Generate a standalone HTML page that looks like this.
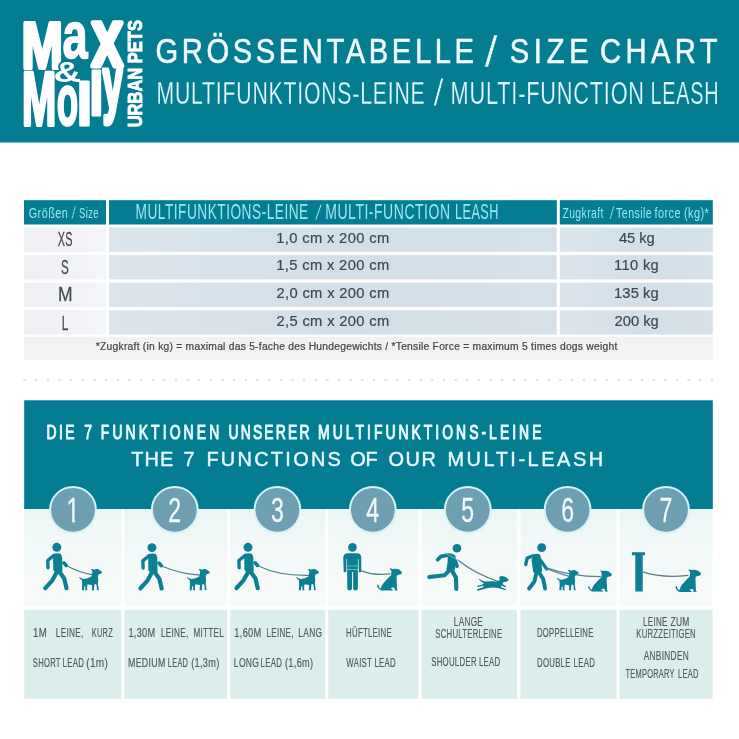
<!DOCTYPE html>
<html lang="de">
<head>
<meta charset="utf-8">
<title>Max &amp; Molly Urban Pets – Grössentabelle / Size Chart – Multifunktions-Leine / Multi-Function Leash</title>
<style>
html,body{margin:0;padding:0;background:#fff;}
body{width:739px;height:739px;overflow:hidden;}
svg{display:block;}
.ls{font-family:"Liberation Sans",sans-serif;}
text{white-space:pre;}
</style>
</head>
<body>
<svg width="739" height="739" viewBox="0 0 739 739">
<defs>
<linearGradient id="gc" x1="0" y1="0" x2="1" y2="0">
<stop offset="0" stop-color="#dde5ec"/><stop offset="0.5" stop-color="#d3dfe8"/><stop offset="1" stop-color="#d6e1e9"/>
</linearGradient>
<linearGradient id="gi" x1="0" y1="0" x2="0" y2="1">
<stop offset="0" stop-color="#ebf6f4"/><stop offset="0.45" stop-color="#f3f9f8"/><stop offset="1" stop-color="#f7fbfa"/>
</linearGradient>
<linearGradient id="g1" x1="0" y1="0" x2="1" y2="0">
<stop offset="0" stop-color="#eef0f4"/><stop offset="0.6" stop-color="#f0f2f5"/><stop offset="1" stop-color="#f5f6f8"/>
</linearGradient>
</defs>
<rect x="0" y="0" width="739" height="142.5" fill="#047c92"/>
<g class="ls" font-weight="700" fill="#fff" stroke="#fff" stroke-linejoin="round" stroke-linecap="round">
<text aria-label="Max"><tspan x="21.47" y="67.50" font-size="65.1" stroke-width="3.8" textLength="41.41" lengthAdjust="spacingAndGlyphs">M</tspan><tspan x="62.44" y="57.93" font-size="66.8" stroke-width="1.6" textLength="25.16" lengthAdjust="spacingAndGlyphs">a</tspan><tspan x="91.53" y="66.30" font-size="81.8" stroke-width="5.0" textLength="31.52" lengthAdjust="spacingAndGlyphs">x</tspan></text>
</g>
<text class="ls" font-weight="700" font-size="30" transform="translate(53.6 82) scale(1.28 1)" fill="#fff" stroke="#047c92" stroke-width="3.2" paint-order="stroke" stroke-linejoin="round">&amp;</text>
<g class="ls" font-weight="700" fill="#fff" stroke="#fff" stroke-linejoin="round" stroke-linecap="round">
<text aria-label="Molly"><tspan x="22.03" y="125.10" font-size="76.5" stroke-width="3.8" textLength="34.27" lengthAdjust="spacingAndGlyphs">M</tspan><tspan x="56.80" y="124.88" font-size="71.9" stroke-width="2.4" textLength="21.44" lengthAdjust="spacingAndGlyphs">o</tspan><tspan x="76.80" y="125.10" font-size="58.8" stroke-width="3.0" textLength="15.48" lengthAdjust="spacingAndGlyphs">l</tspan><tspan x="89.30" y="115.00" font-size="61.7" stroke-width="3.0" textLength="14.29" lengthAdjust="spacingAndGlyphs">l</tspan><tspan x="102.65" y="108.81" font-size="74.5" stroke-width="5.0" textLength="19.67" lengthAdjust="spacingAndGlyphs">y</tspan></text>
</g>
<text class="ls" font-weight="700" font-size="21" fill="#fff" stroke="#fff" stroke-width="0.9" transform="translate(142.4 127.3) rotate(-90) scale(0.786 1)">URBAN PETS</text>
<text class="ls" font-size="35.6" fill="#f2fcff" stroke="#f2fcff" stroke-width="0.6" stroke-linejoin="round" transform="translate(0 62.8) scale(0.8200 1)"><tspan x="189.68" letter-spacing="4.362">GRÖSSENTABELLE</tspan></text>
<text class="ls" font-size="44" fill="#f2fcff" stroke="#047c92" stroke-width="0.5" transform="translate(484.40 66.50) scale(1.0714 1)" x="-0.00">/</text>
<text class="ls" font-size="35.6" fill="#f2fcff" stroke="#f2fcff" stroke-width="0.6" stroke-linejoin="round" transform="translate(0 62.8) scale(0.8200 1)"><tspan x="621.57" letter-spacing="5.722">SIZE</tspan> <tspan x="731.76" letter-spacing="5.354">CHART</tspan></text>
<text class="ls" font-size="32.2" fill="#e4fafe" stroke="#047c92" stroke-width="0.25" letter-spacing="1.2" transform="translate(158.10 103.50) scale(0.6597 1)" x="-2.58">MULTIFUNKTIONS-LEINE</text>
<text class="ls" font-size="38" fill="#e4fafe" stroke="#047c92" stroke-width="0.9" transform="translate(433.20 106.00) scale(0.9962 1)" x="-0.00">/</text>
<text class="ls" font-size="32.2" fill="#e4fafe" stroke="#047c92" stroke-width="0.25" letter-spacing="1.2" transform="translate(452.30 103.50) scale(0.6748 1)" x="-2.58">MULTI-FUNCTION</text>
<text class="ls" font-size="32.2" fill="#e4fafe" stroke="#047c92" stroke-width="0.25" letter-spacing="1.2" transform="translate(652.10 103.50) scale(0.6175 1)" x="-2.58">LEASH</text>
<rect x="24" y="200.2" width="82.0" height="24.3" fill="#047c92"/>
<rect x="109" y="200.2" width="447.8" height="24.3" fill="#047c92"/>
<rect x="559.8" y="200.2" width="153.0" height="24.3" fill="#047c92"/>
<rect x="24" y="227.5" width="82" height="24.4" fill="url(#g1)"/>
<rect x="109" y="227.5" width="447.8" height="24.4" fill="url(#gc)"/>
<rect x="559.8" y="227.5" width="153.0" height="24.4" fill="url(#gc)"/>
<rect x="24" y="255.1" width="82" height="24.3" fill="url(#g1)"/>
<rect x="109" y="255.1" width="447.8" height="24.3" fill="url(#gc)"/>
<rect x="559.8" y="255.1" width="153.0" height="24.3" fill="url(#gc)"/>
<rect x="24" y="282.7" width="82" height="24.3" fill="url(#g1)"/>
<rect x="109" y="282.7" width="447.8" height="24.3" fill="url(#gc)"/>
<rect x="559.8" y="282.7" width="153.0" height="24.3" fill="url(#gc)"/>
<rect x="24" y="310.3" width="82" height="24.3" fill="url(#g1)"/>
<rect x="109" y="310.3" width="447.8" height="24.3" fill="url(#gc)"/>
<rect x="559.8" y="310.3" width="153.0" height="24.3" fill="url(#gc)"/>
<rect x="24" y="336.8" width="688.8" height="23.4" fill="#f2f2f3"/>
<text class="ls" font-size="15" fill="#9be6f3" letter-spacing="0.6" transform="translate(29.20 217.80) scale(0.7271 1)" x="-0.75">Größen</text>
<text class="ls" font-size="17.5" fill="#9be6f3" stroke="#047c92" stroke-width="0.5" transform="translate(71.20 218.70) scale(1.0000 1)" x="-0.00">/</text>
<text class="ls" font-size="15" fill="#9be6f3" letter-spacing="0.6" transform="translate(79.30 217.80) scale(0.6380 1)" x="-0.67">Size</text>
<text class="ls" font-size="22" fill="#9be6f3" letter-spacing="0.8" transform="translate(136.60 219.00) scale(0.6227 1)" x="-1.76">MULTIFUNKTIONS-LEINE</text>
<text class="ls" font-size="22.5" fill="#9be6f3" stroke="#047c92" stroke-width="0.9" transform="translate(314.40 219.80) scale(1.2698 1)" x="-0.00">/</text>
<text class="ls" font-size="22" fill="#9be6f3" letter-spacing="0.8" transform="translate(326.40 219.00) scale(0.6378 1)" x="-1.76">MULTI-FUNCTION</text>
<text class="ls" font-size="22" fill="#9be6f3" letter-spacing="0.8" transform="translate(456.00 219.00) scale(0.5758 1)" x="-1.76">LEASH</text>
<text class="ls" font-size="15" fill="#9be6f3" letter-spacing="0.6" transform="translate(562.70 217.80) scale(0.6939 1)" x="-0.45">Zugkraft</text>
<text class="ls" font-size="17.5" fill="#9be6f3" stroke="#047c92" stroke-width="0.5" transform="translate(609.40 218.70) scale(1.0204 1)" x="-0.00">/</text>
<text class="ls" font-size="15" fill="#9be6f3" letter-spacing="0.6" transform="translate(616.30 217.80) scale(0.7083 1)" x="-0.30">Tensile</text>
<text class="ls" font-size="15" fill="#9be6f3" letter-spacing="0.6" transform="translate(654.70 217.80) scale(0.7270 1)" x="-0.22">force</text>
<text class="ls" font-size="15" fill="#9be6f3" letter-spacing="0.6" transform="translate(684.60 217.80) scale(0.7320 1)" x="-0.90">(kg)*</text>
<text class="ls" font-size="19.3" fill="#454a52" stroke="#454a52" stroke-width="0.25" stroke-linejoin="round" letter-spacing="0.8" transform="translate(57.90 245.50) scale(0.5614 1)" x="-0.48">XS</text>
<text class="ls" font-size="15.2" fill="#3d4a55" stroke="#3d4a55" stroke-width="0.22" stroke-linejoin="round" transform="translate(0 242.79999999999998) scale(0.9700 1)"><tspan x="284.74" letter-spacing="0.357">1,0 cm x 200 cm</tspan></text>
<text class="ls" font-size="15.2" fill="#3d4a55" stroke="#3d4a55" stroke-width="0.22" stroke-linejoin="round" transform="translate(0 242.79999999999998) scale(0.9700 1)"><tspan x="638.15" letter-spacing="-0.102">45 kg</tspan></text>
<text class="ls" font-size="19.3" fill="#454a52" stroke="#454a52" stroke-width="0.25" stroke-linejoin="round" transform="translate(61.60 273.80) scale(0.6037 1)" x="-0.87">S</text>
<text class="ls" font-size="15.2" fill="#3d4a55" stroke="#3d4a55" stroke-width="0.22" stroke-linejoin="round" transform="translate(0 270.35) scale(0.9700 1)"><tspan x="284.74" letter-spacing="0.357">1,5 cm x 200 cm</tspan></text>
<text class="ls" font-size="15.2" fill="#3d4a55" stroke="#3d4a55" stroke-width="0.22" stroke-linejoin="round" transform="translate(0 270.35) scale(0.9700 1)"><tspan x="633.09" letter-spacing="0.317">110 kg</tspan></text>
<text class="ls" font-size="19.3" fill="#454a52" stroke="#454a52" stroke-width="0.25" stroke-linejoin="round" transform="translate(59.30 301.30) scale(0.9048 1)" x="-1.54">M</text>
<text class="ls" font-size="15.2" fill="#3d4a55" stroke="#3d4a55" stroke-width="0.22" stroke-linejoin="round" transform="translate(0 297.95000000000005) scale(0.9700 1)"><tspan x="285.12" letter-spacing="0.329">2,0 cm x 200 cm</tspan></text>
<text class="ls" font-size="15.2" fill="#3d4a55" stroke="#3d4a55" stroke-width="0.22" stroke-linejoin="round" transform="translate(0 297.95000000000005) scale(0.9700 1)"><tspan x="633.09" letter-spacing="0.089">135 kg</tspan></text>
<text class="ls" font-size="19.3" fill="#454a52" stroke="#454a52" stroke-width="0.25" stroke-linejoin="round" transform="translate(62.80 330.20) scale(0.6055 1)" x="-1.54">L</text>
<text class="ls" font-size="15.2" fill="#3d4a55" stroke="#3d4a55" stroke-width="0.22" stroke-linejoin="round" transform="translate(0 325.55000000000007) scale(0.9700 1)"><tspan x="285.12" letter-spacing="0.329">2,5 cm x 200 cm</tspan></text>
<text class="ls" font-size="15.2" fill="#3d4a55" stroke="#3d4a55" stroke-width="0.22" stroke-linejoin="round" transform="translate(0 325.55000000000007) scale(0.9700 1)"><tspan x="633.47" letter-spacing="0.013">200 kg</tspan></text>
<text class="ls" font-size="10.4" fill="#45494f" stroke="#45494f" stroke-width="0.25" stroke-linejoin="round" transform="translate(0 350.3) scale(0.9900 1)"><tspan x="96.81" letter-spacing="0.252">*Zugkraft (in kg) = maximal das 5-fache des Hundegewichts / *Tensile Force = maximum 5 times dogs weight</tspan></text>
<line x1="24.5" y1="380" x2="714" y2="380" stroke="#e0e4e7" stroke-width="2.6" stroke-linecap="round" stroke-dasharray="0.1 11.55"/>
<rect x="24.2" y="400.3" width="688.6" height="108.7" fill="#047c92"/>
<rect x="24.2" y="509" width="97.1" height="96.6" fill="url(#gi)"/>
<rect x="24.2" y="609.8" width="97.1" height="89" fill="#dceeec"/>
<rect x="124.4" y="509" width="102.6" height="96.6" fill="url(#gi)"/>
<rect x="124.4" y="609.8" width="102.6" height="89" fill="#dceeec"/>
<rect x="230.2" y="509" width="95.1" height="96.6" fill="url(#gi)"/>
<rect x="230.2" y="609.8" width="95.1" height="89" fill="#dceeec"/>
<rect x="328.2" y="509" width="90.3" height="96.6" fill="url(#gi)"/>
<rect x="328.2" y="609.8" width="90.3" height="89" fill="#dceeec"/>
<rect x="421.7" y="509" width="95.3" height="96.6" fill="url(#gi)"/>
<rect x="421.7" y="609.8" width="95.3" height="89" fill="#dceeec"/>
<rect x="520.5" y="509" width="96.0" height="96.6" fill="url(#gi)"/>
<rect x="520.5" y="609.8" width="96.0" height="89" fill="#dceeec"/>
<rect x="619.5" y="509" width="93.1" height="96.6" fill="url(#gi)"/>
<rect x="619.5" y="609.8" width="93.1" height="89" fill="#dceeec"/>
<text class="ls" font-size="20.8" fill="#e8fbff" stroke="#e8fbff" stroke-width="1.1" stroke-linejoin="round" transform="translate(0 439.1) scale(0.6700 1)"><tspan x="69.53" letter-spacing="3.633">DIE</tspan> <tspan x="125.83">7</tspan> <tspan x="150.43" letter-spacing="4.634">FUNKTIONEN</tspan> <tspan x="340.98" letter-spacing="3.240">UNSERER</tspan> <tspan x="474.75" letter-spacing="4.500">MULTIFUNKTIONS-LEINE</tspan></text>
<text class="ls" font-size="21" fill="#e8fbff" stroke="#e8fbff" stroke-width="0.45" stroke-linejoin="round" transform="translate(0 465.7) scale(0.9500 1)"><tspan x="138.11" letter-spacing="1.209">THE</tspan> <tspan x="193.16">7</tspan> <tspan x="217.27" letter-spacing="2.393">FUNCTIONS</tspan> <tspan x="368.74" letter-spacing="-0.247">OF</tspan> <tspan x="409.06" letter-spacing="1.582">OUR</tspan> <tspan x="470.95" letter-spacing="2.676">MULTI-LEASH</tspan></text>
<circle cx="73" cy="509.8" r="22.9" fill="#6e9eb2" stroke="#d6f3f7" stroke-width="2"/>
<text class="ls" x="73" y="522" font-size="35" fill="#f0fbfd" text-anchor="middle" stroke="#f0fbfd" stroke-width="0.3" transform="translate(73 0) scale(0.66 1) translate(-73 0)">1</text>
<circle cx="174.8" cy="509.8" r="22.9" fill="#6e9eb2" stroke="#d6f3f7" stroke-width="2"/>
<text class="ls" x="174.8" y="522" font-size="35" fill="#f0fbfd" text-anchor="middle" stroke="#f0fbfd" stroke-width="0.3" transform="translate(174.8 0) scale(0.66 1) translate(-174.8 0)">2</text>
<circle cx="277.4" cy="509.8" r="22.9" fill="#6e9eb2" stroke="#d6f3f7" stroke-width="2"/>
<text class="ls" x="277.4" y="522" font-size="35" fill="#f0fbfd" text-anchor="middle" stroke="#f0fbfd" stroke-width="0.3" transform="translate(277.4 0) scale(0.66 1) translate(-277.4 0)">3</text>
<circle cx="372.8" cy="509.8" r="22.9" fill="#6e9eb2" stroke="#d6f3f7" stroke-width="2"/>
<text class="ls" x="372.8" y="522" font-size="35" fill="#f0fbfd" text-anchor="middle" stroke="#f0fbfd" stroke-width="0.3" transform="translate(372.8 0) scale(0.66 1) translate(-372.8 0)">4</text>
<circle cx="467.8" cy="509.8" r="22.9" fill="#6e9eb2" stroke="#d6f3f7" stroke-width="2"/>
<text class="ls" x="467.8" y="522" font-size="35" fill="#f0fbfd" text-anchor="middle" stroke="#f0fbfd" stroke-width="0.3" transform="translate(467.8 0) scale(0.66 1) translate(-467.8 0)">5</text>
<circle cx="567.6" cy="509.8" r="22.9" fill="#6e9eb2" stroke="#d6f3f7" stroke-width="2"/>
<text class="ls" x="567.6" y="522" font-size="35" fill="#f0fbfd" text-anchor="middle" stroke="#f0fbfd" stroke-width="0.3" transform="translate(567.6 0) scale(0.66 1) translate(-567.6 0)">6</text>
<circle cx="666" cy="509.8" r="22.9" fill="#6e9eb2" stroke="#d6f3f7" stroke-width="2"/>
<text class="ls" x="666" y="522" font-size="35" fill="#f0fbfd" text-anchor="middle" stroke="#f0fbfd" stroke-width="0.3" transform="translate(666 0) scale(0.66 1) translate(-666 0)">7</text>
<path d="M65.5 518.4h6.75v5h-6.75z M74.7 518.4h6v5h-6z" fill="#6e9eb2"/>
<g transform="translate(30 530) scale(0.13532)" fill="#0d7f93"><circle cx="198" cy="128" r="33"/><path d="M180 175 Q205 166 228 178 L237 200 L240 305 Q222 330 192 318 L172 295 L170 200 Z"/><g fill="none" stroke="#0d7f93" stroke-linecap="round" stroke-linejoin="round"><path d="M178 186 L131 226 L133 279" stroke-width="25"/><path d="M250 242 L268 262" stroke-width="26"/><path d="M198 312 L165 372 L113 430" stroke-width="31"/><path d="M220 312 L253 358 L270 430" stroke-width="31"/></g><path d="M278 268 Q360 312 458 330" fill="none" stroke="#557f8b" stroke-width="9" stroke-linecap="round"/></g>
<g transform="translate(74 562) scale(0.04601)" fill="#0d7f93"><path d="M108 332 L125 330 Q170 365 215 372 Q300 365 385 310 L400 200 L365 158 L395 150 L440 170 Q480 140 530 160 L600 205 Q612 225 598 248 L545 262 Q520 285 520 320 L528 400 L520 470 L535 590 L545 605 L500 612 L490 500 L470 480 L445 490 L435 590 L440 612 L380 612 L390 590 L392 500 Q330 480 290 490 L285 590 L295 612 L245 612 L248 530 L230 520 L215 590 L220 612 L170 612 L172 590 L178 450 Q165 410 175 395 Q130 375 108 332 Z"/></g>
<g transform="translate(130 530) scale(0.13532) translate(-36 2)" fill="#0d7f93"><circle cx="198" cy="128" r="33"/><path d="M180 175 Q205 166 228 178 L237 200 L240 305 Q222 330 192 318 L172 295 L170 200 Z"/><g fill="none" stroke="#0d7f93" stroke-linecap="round" stroke-linejoin="round"><path d="M178 186 L131 226 L133 279" stroke-width="25"/><path d="M250 242 L268 262" stroke-width="26"/><path d="M198 312 L165 372 L113 430" stroke-width="31"/><path d="M220 312 L253 358 L270 430" stroke-width="31"/></g></g>
<g transform="translate(130 530) scale(0.13532)" fill="#0d7f93"><path d="M243 270 Q370 325 520 333" fill="none" stroke="#557f8b" stroke-width="9" stroke-linecap="round"/></g>
<g transform="translate(181.8 562) scale(0.04601)" fill="#0d7f93"><path d="M108 332 L125 330 Q170 365 215 372 Q300 365 385 310 L400 200 L365 158 L395 150 L440 170 Q480 140 530 160 L600 205 Q612 225 598 248 L545 262 Q520 285 520 320 L528 400 L520 470 L535 590 L545 605 L500 612 L490 500 L470 480 L445 490 L435 590 L440 612 L380 612 L390 590 L392 500 Q330 480 290 490 L285 590 L295 612 L245 612 L248 530 L230 520 L215 590 L220 612 L170 612 L172 590 L178 450 Q165 410 175 395 Q130 375 108 332 Z"/></g>
<g transform="translate(225 530) scale(0.13532) translate(-28 0)" fill="#0d7f93"><circle cx="198" cy="128" r="33"/><path d="M180 175 Q205 166 228 178 L237 200 L240 305 Q222 330 192 318 L172 295 L170 200 Z"/><g fill="none" stroke="#0d7f93" stroke-linecap="round" stroke-linejoin="round"><path d="M178 186 L131 226 L133 279" stroke-width="25"/><path d="M250 242 L268 262" stroke-width="26"/><path d="M198 312 L165 372 L113 430" stroke-width="31"/><path d="M220 312 L253 358 L270 430" stroke-width="31"/></g></g>
<g transform="translate(225 530) scale(0.13532)" fill="#0d7f93"><path d="M252 268 Q400 340 625 335" fill="none" stroke="#557f8b" stroke-width="9" stroke-linecap="round"/></g>
<g transform="translate(291 562) scale(0.04601)" fill="#0d7f93"><path d="M108 332 L125 330 Q170 365 215 372 Q300 365 385 310 L400 200 L365 158 L395 150 L440 170 Q480 140 530 160 L600 205 Q612 225 598 248 L545 262 Q520 285 520 320 L528 400 L520 470 L535 590 L545 605 L500 612 L490 500 L470 480 L445 490 L435 590 L440 612 L380 612 L390 590 L392 500 Q330 480 290 490 L285 590 L295 612 L245 612 L248 530 L230 520 L215 590 L220 612 L170 612 L172 590 L178 450 Q165 410 175 395 Q130 375 108 332 Z"/></g>
<g transform="translate(325 530) scale(0.13532)" fill="#0d7f93"><circle cx="203" cy="128" r="32"/><path d="M165 172 L240 172 Q268 175 268 205 L268 305 Q262 318 250 312 L247 215 L243 215 L243 435 Q238 448 225 448 Q210 448 208 435 L208 310 L200 310 L200 435 Q195 448 182 448 Q167 448 165 435 L162 215 L158 215 L158 305 Q150 318 138 310 L135 205 Q135 175 165 172 Z"/><path d="M163 266 H245 M163 292 H245" fill="none" stroke="#8fd3df" stroke-width="5"/><path d="M270 302 Q360 338 480 325" fill="none" stroke="#557f8b" stroke-width="9" stroke-linecap="round"/></g>
<g transform="translate(374 562) scale(0.04601)" fill="#0d7f93"><path d="M340 132 L400 150 Q470 135 540 160 L605 215 Q615 240 590 268 L530 278 Q495 290 490 320 L495 420 L500 590 L525 615 L450 618 L445 560 Q400 540 360 575 L400 590 L410 618 L160 618 Q100 600 70 540 Q60 500 85 485 Q100 490 100 520 Q110 560 150 580 Q160 520 200 470 Q280 370 370 290 L380 200 Z"/></g>
<g transform="translate(420 530) scale(0.13532)" fill="#0d7f93"><circle cx="273" cy="135" r="32"/><path d="M205 178 Q235 165 262 190 L268 250 L255 300 Q225 315 195 295 L205 230 Z"/><g fill="none" stroke="#0d7f93" stroke-linecap="round" stroke-linejoin="round"><path d="M215 185 L155 195 L130 220" stroke-width="27"/><path d="M262 230 L274 268" stroke-width="26"/><path d="M215 300 L182 334 L68 348" stroke-width="30"/><path d="M236 300 L266 352 L268 436" stroke-width="30"/></g></g>
<g transform="translate(420 530) scale(0.13532)" fill="#0d7f93"><path d="M285 225 Q400 320 590 385" fill="none" stroke="#557f8b" stroke-width="9" stroke-linecap="round"/><path d="M185 170 L285 225" fill="none" stroke="#6fc0cf" stroke-width="6" stroke-linecap="round"/></g>
<g transform="translate(470 568) scale(0.05954)" fill="#0d7f93"><path d="M155 182 Q200 215 250 228 Q350 215 450 225 L500 200 L490 145 L540 135 L595 152 L650 195 Q655 215 615 230 L560 240 L545 270 L610 310 L600 325 L530 300 L515 320 L605 355 L598 375 L470 335 Q380 320 300 335 L130 380 L110 360 L230 320 L215 300 L130 318 L118 300 L200 280 L235 255 Q180 230 150 195 Z"/></g>
<g transform="translate(518 530) scale(0.13532)" fill="#0d7f93"><circle cx="175" cy="130" r="33"/><path d="M120 180 Q145 168 165 185 L178 290 Q182 315 150 322 L112 312 L100 220 Z"/><g fill="none" stroke="#0d7f93" stroke-linecap="round" stroke-linejoin="round"><path d="M112 190 L68 208 L57 255" stroke-width="25"/><path d="M160 215 L212 288" stroke-width="24"/><path d="M135 318 L122 380 L82 432" stroke-width="29"/><path d="M155 312 L186 362 L200 432" stroke-width="29"/></g><path d="M215 288 Q300 320 385 345" fill="none" stroke="#557f8b" stroke-width="9" stroke-linecap="round"/><path d="M215 282 Q400 345 610 345" fill="none" stroke="#557f8b" stroke-width="9" stroke-linecap="round"/></g>
<g transform="translate(551.8 563.3) scale(0.04417)" fill="#0d7f93"><path d="M108 332 L125 330 Q170 365 215 372 Q300 365 385 310 L400 200 L365 158 L395 150 L440 170 Q480 140 530 160 L600 205 Q612 225 598 248 L545 262 Q520 285 520 320 L528 400 L520 470 L535 590 L545 605 L500 612 L490 500 L470 480 L445 490 L435 590 L440 612 L380 612 L390 590 L392 500 Q330 480 290 490 L285 590 L295 612 L245 612 L248 530 L230 520 L215 590 L220 612 L170 612 L172 590 L178 450 Q165 410 175 395 Q130 375 108 332 Z"/></g>
<g transform="translate(585.2 564.5) scale(0.04371)" fill="#0d7f93"><path d="M340 132 L400 150 Q470 135 540 160 L605 215 Q615 240 590 268 L530 278 Q495 290 490 320 L495 420 L500 590 L525 615 L450 618 L445 560 Q400 540 360 575 L400 590 L410 618 L160 618 Q100 600 70 540 Q60 500 85 485 Q100 490 100 520 Q110 560 150 580 Q160 520 200 470 Q280 370 370 290 L380 200 Z"/></g>
<g transform="translate(615 530) scale(0.13532)" fill="#0d7f93"><path d="M125 165 H222 V186 H205 V455 H150 V186 H125 Z"/><path d="M205 310 Q350 358 540 335" fill="none" stroke="#557f8b" stroke-width="9" stroke-linecap="round"/></g>
<g transform="translate(672.4 563) scale(0.04693)" fill="#0d7f93"><path d="M340 132 L400 150 Q470 135 540 160 L605 215 Q615 240 590 268 L530 278 Q495 290 490 320 L495 420 L500 590 L525 615 L450 618 L445 560 Q400 540 360 575 L400 590 L410 618 L160 618 Q100 600 70 540 Q60 500 85 485 Q100 490 100 520 Q110 560 150 580 Q160 520 200 470 Q280 370 370 290 L380 200 Z"/></g>
<text class="ls" font-size="13" fill="#515b5f" stroke="#515b5f" stroke-width="0.2" stroke-linejoin="round" letter-spacing="0.45" transform="translate(33.70 637.30) scale(0.7421 1)" x="-0.97">1M</text>
<text class="ls" font-size="13" fill="#515b5f" stroke="#515b5f" stroke-width="0.2" stroke-linejoin="round" letter-spacing="0.45" transform="translate(56.50 637.30) scale(0.6303 1)" x="-1.04">LEINE,</text>
<text class="ls" font-size="13" fill="#515b5f" stroke="#515b5f" stroke-width="0.2" stroke-linejoin="round" letter-spacing="0.45" transform="translate(92.30 637.30) scale(0.5754 1)" x="-1.04">KURZ</text>
<text class="ls" font-size="13" fill="#515b5f" stroke="#515b5f" stroke-width="0.2" stroke-linejoin="round" letter-spacing="0.45" transform="translate(33.20 667.00) scale(0.5866 1)" x="-0.58">SHORT</text>
<text class="ls" font-size="13" fill="#515b5f" stroke="#515b5f" stroke-width="0.2" stroke-linejoin="round" letter-spacing="0.45" transform="translate(63.20 667.00) scale(0.6032 1)" x="-1.04">LEAD</text>
<text class="ls" font-size="13" fill="#515b5f" stroke="#515b5f" stroke-width="0.2" stroke-linejoin="round" letter-spacing="0.45" transform="translate(86.90 667.00) scale(0.7678 1)" x="-0.78">(1m)</text>
<text class="ls" font-size="13" fill="#515b5f" stroke="#515b5f" stroke-width="0.2" stroke-linejoin="round" letter-spacing="0.45" transform="translate(129.10 637.30) scale(0.7055 1)" x="-0.97">1,30M</text>
<text class="ls" font-size="13" fill="#515b5f" stroke="#515b5f" stroke-width="0.2" stroke-linejoin="round" letter-spacing="0.45" transform="translate(161.60 637.30) scale(0.6303 1)" x="-1.04">LEINE,</text>
<text class="ls" font-size="13" fill="#515b5f" stroke="#515b5f" stroke-width="0.2" stroke-linejoin="round" letter-spacing="0.45" transform="translate(194.10 637.30) scale(0.6251 1)" x="-1.04">MITTEL</text>
<text class="ls" font-size="13" fill="#515b5f" stroke="#515b5f" stroke-width="0.2" stroke-linejoin="round" letter-spacing="0.45" transform="translate(128.70 667.00) scale(0.6797 1)" x="-1.04">MEDIUM</text>
<text class="ls" font-size="13" fill="#515b5f" stroke="#515b5f" stroke-width="0.2" stroke-linejoin="round" letter-spacing="0.45" transform="translate(168.40 667.00) scale(0.5705 1)" x="-1.04">LEAD</text>
<text class="ls" font-size="13" fill="#515b5f" stroke="#515b5f" stroke-width="0.2" stroke-linejoin="round" letter-spacing="0.45" transform="translate(191.70 667.00) scale(0.7069 1)" x="-0.78">(1,3m)</text>
<text class="ls" font-size="13" fill="#515b5f" stroke="#515b5f" stroke-width="0.2" stroke-linejoin="round" letter-spacing="0.45" transform="translate(235.00 637.30) scale(0.7111 1)" x="-0.97">1,60M</text>
<text class="ls" font-size="13" fill="#515b5f" stroke="#515b5f" stroke-width="0.2" stroke-linejoin="round" letter-spacing="0.45" transform="translate(267.20 637.30) scale(0.6182 1)" x="-1.04">LEINE,</text>
<text class="ls" font-size="13" fill="#515b5f" stroke="#515b5f" stroke-width="0.2" stroke-linejoin="round" letter-spacing="0.45" transform="translate(299.00 637.30) scale(0.6444 1)" x="-1.04">LANG</text>
<text class="ls" font-size="13" fill="#515b5f" stroke="#515b5f" stroke-width="0.2" stroke-linejoin="round" letter-spacing="0.45" transform="translate(234.50 667.00) scale(0.6604 1)" x="-1.04">LONG</text>
<text class="ls" font-size="13" fill="#515b5f" stroke="#515b5f" stroke-width="0.2" stroke-linejoin="round" letter-spacing="0.45" transform="translate(261.20 667.00) scale(0.6032 1)" x="-1.04">LEAD</text>
<text class="ls" font-size="13" fill="#515b5f" stroke="#515b5f" stroke-width="0.2" stroke-linejoin="round" letter-spacing="0.45" transform="translate(285.50 667.00) scale(0.7095 1)" x="-0.78">(1,6m)</text>
<text class="ls" font-size="13" fill="#515b5f" stroke="#515b5f" stroke-width="0.2" stroke-linejoin="round" letter-spacing="0.45" transform="translate(346.70 637.30) scale(0.6006 1)" x="-1.04">HÜFTLEINE</text>
<text class="ls" font-size="13" fill="#515b5f" stroke="#515b5f" stroke-width="0.2" stroke-linejoin="round" letter-spacing="0.45" transform="translate(346.40 667.00) scale(0.6000 1)" x="-0.07">WAIST</text>
<text class="ls" font-size="13" fill="#515b5f" stroke="#515b5f" stroke-width="0.2" stroke-linejoin="round" letter-spacing="0.45" transform="translate(375.10 667.00) scale(0.6032 1)" x="-1.04">LEAD</text>
<text class="ls" font-size="13" fill="#515b5f" stroke="#515b5f" stroke-width="0.2" stroke-linejoin="round" letter-spacing="0.45" transform="translate(454.50 625.60) scale(0.6319 1)" x="-1.04">LANGE</text>
<text class="ls" font-size="13" fill="#515b5f" stroke="#515b5f" stroke-width="0.2" stroke-linejoin="round" letter-spacing="0.45" transform="translate(435.60 638.30) scale(0.5975 1)" x="-0.58">SCHULTERLEINE</text>
<text class="ls" font-size="13" fill="#515b5f" stroke="#515b5f" stroke-width="0.2" stroke-linejoin="round" letter-spacing="0.45" transform="translate(431.50 665.90) scale(0.6025 1)" x="-0.58">SHOULDER</text>
<text class="ls" font-size="13" fill="#515b5f" stroke="#515b5f" stroke-width="0.2" stroke-linejoin="round" letter-spacing="0.45" transform="translate(479.50 665.90) scale(0.6032 1)" x="-1.04">LEAD</text>
<text class="ls" font-size="13" fill="#515b5f" stroke="#515b5f" stroke-width="0.2" stroke-linejoin="round" letter-spacing="0.45" transform="translate(537.60 637.40) scale(0.5953 1)" x="-1.04">DOPPELLEINE</text>
<text class="ls" font-size="13" fill="#515b5f" stroke="#515b5f" stroke-width="0.2" stroke-linejoin="round" letter-spacing="0.45" transform="translate(537.60 666.90) scale(0.6005 1)" x="-1.04">DOUBLE</text>
<text class="ls" font-size="13" fill="#515b5f" stroke="#515b5f" stroke-width="0.2" stroke-linejoin="round" letter-spacing="0.45" transform="translate(574.20 666.90) scale(0.6032 1)" x="-1.04">LEAD</text>
<text class="ls" font-size="13" fill="#515b5f" stroke="#515b5f" stroke-width="0.2" stroke-linejoin="round" letter-spacing="0.45" transform="translate(643.70 625.60) scale(0.6189 1)" x="-1.04">LEINE</text>
<text class="ls" font-size="13" fill="#515b5f" stroke="#515b5f" stroke-width="0.2" stroke-linejoin="round" letter-spacing="0.45" transform="translate(670.80 625.60) scale(0.6482 1)" x="-0.39">ZUM</text>
<text class="ls" font-size="13" fill="#515b5f" stroke="#515b5f" stroke-width="0.2" stroke-linejoin="round" letter-spacing="0.45" transform="translate(636.90 638.20) scale(0.5929 1)" x="-1.04">KURZZEITIGEN</text>
<text class="ls" font-size="13" fill="#515b5f" stroke="#515b5f" stroke-width="0.2" stroke-linejoin="round" letter-spacing="0.45" transform="translate(643.70 660.20) scale(0.6411 1)" x="-0.00">ANBINDEN</text>
<text class="ls" font-size="13" fill="#515b5f" stroke="#515b5f" stroke-width="0.2" stroke-linejoin="round" letter-spacing="0.45" transform="translate(625.60 678.00) scale(0.5741 1)" x="-0.26">TEMPORARY</text>
<text class="ls" font-size="13" fill="#515b5f" stroke="#515b5f" stroke-width="0.2" stroke-linejoin="round" letter-spacing="0.45" transform="translate(678.60 678.00) scale(0.5824 1)" x="-1.04">LEAD</text>
</svg>
</body>
</html>
